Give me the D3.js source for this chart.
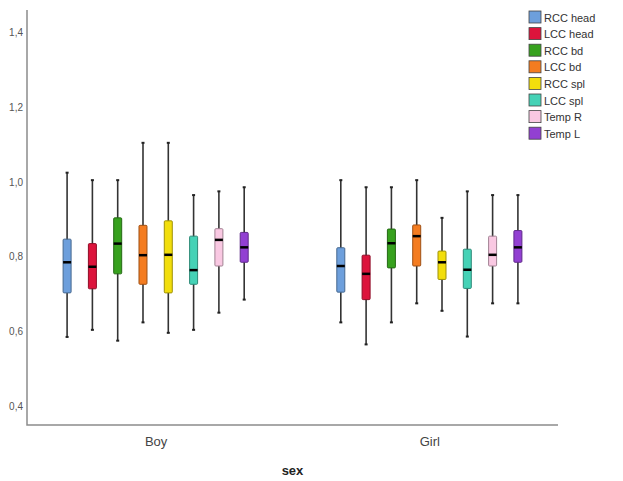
<!DOCTYPE html>
<html>
<head>
<meta charset="utf-8">
<script src="https://cdn.jsdelivr.net/npm/d3@7"></script>
<style>
  body { margin: 0; background: #fff; }
  text { font-family: "Liberation Sans", Arial, sans-serif; }
</style>
</head>
<body>
<div id="chart"></div>
<script>
// groups on the x axis and the eight measured sites
const groups = ["Boy", "Girl"];
const series = ["RCC head", "LCC head", "RCC bd", "LCC bd", "RCC spl", "LCC spl", "Temp R", "Temp L"];
const colors = ["#6d9fdc", "#dc143c", "#37a11e", "#f47c20", "#f2de0c", "#45d2b6", "#f9c8e2", "#9240d2"];

// [low whisker, Q1, median, Q3, high whisker] per series
const boyStats = [
  [0.585, 0.703, 0.785, 0.847, 1.025],
  [0.604, 0.714, 0.773, 0.835, 1.005],
  [0.575, 0.754, 0.835, 0.904, 1.005],
  [0.624, 0.726, 0.804, 0.884, 1.105],
  [0.596, 0.703, 0.805, 0.896, 1.105],
  [0.604, 0.726, 0.764, 0.855, 0.965],
  [0.650, 0.775, 0.845, 0.875, 0.975],
  [0.685, 0.785, 0.825, 0.865, 0.986]
];
const girlStats = [
  [0.624, 0.705, 0.775, 0.824, 1.005],
  [0.565, 0.685, 0.754, 0.804, 0.986],
  [0.624, 0.770, 0.836, 0.874, 0.986],
  [0.675, 0.775, 0.855, 0.885, 1.005],
  [0.655, 0.739, 0.785, 0.815, 0.904],
  [0.586, 0.715, 0.765, 0.820, 0.975],
  [0.675, 0.775, 0.805, 0.855, 0.965],
  [0.675, 0.785, 0.825, 0.870, 0.965]
];
const yTicks = [0.4, 0.6, 0.8, 1.0, 1.2, 1.4];

const W = 623, H = 481;
const plotLeft = 27, plotRight = 558, plotBottom = 425, plotTop = 10;

const svg = d3.select("#chart").append("svg")
  .attr("width", W).attr("height", H);

const x = d3.scalePoint().domain(groups).range([plotLeft, plotRight]).padding(0.47);
const inner = d3.scalePoint().domain(series).range([-101.2, 101.2]).padding(0.5);
const y = d3.scaleLinear().domain([0.4, 1.4]).range([406, 32.7]);
const boxW = 8;

// axes
const fmt = d => d3.format(".1f")(d).replace(".", ",");
const yAxis = svg.append("g")
  .attr("transform", `translate(${plotLeft},0)`)
  .call(d3.axisLeft(y).tickValues(yTicks).tickSize(0).tickPadding(4).tickFormat(fmt));
yAxis.select(".domain").remove();
yAxis.selectAll("text").attr("font-size", 10).attr("fill", "#555")
  .style("font-family", "Arial, 'Liberation Sans', sans-serif");

const xAxis = svg.append("g")
  .attr("transform", `translate(0,${plotBottom})`)
  .call(d3.axisBottom(x).tickSize(0).tickPadding(12));
xAxis.select(".domain").remove();
xAxis.selectAll("text").attr("font-size", 13).attr("fill", "#444");

svg.append("path")
  .attr("d", `M${plotLeft},${plotTop}V${plotBottom}H${plotRight}`)
  .attr("fill", "none").attr("stroke", "#8c8c8c").attr("stroke-width", 1.5);

svg.append("text")
  .attr("x", (plotLeft + plotRight) / 2).attr("y", 475)
  .attr("text-anchor", "middle")
  .attr("font-size", 13).attr("font-weight", "bold").attr("fill", "#222")
  .text("sex");

// boxes
const rows = [];
groups.forEach((g, gi) => {
  const stats = gi === 0 ? boyStats : girlStats;
  series.forEach((s, si) => {
    const [lo, q1, med, q3, hi] = stats[si];
    rows.push({ g, s, si, lo, q1, med, q3, hi });
  });
});

const box = svg.append("g").selectAll("g")
  .data(rows).enter().append("g")
  .attr("transform", d => `translate(${x(d.g) + inner(d.s)},0)`);

box.append("line")
  .attr("y1", d => y(d.hi)).attr("y2", d => y(d.lo))
  .attr("stroke", "#333").attr("stroke-width", 1.6);

box.append("rect")
  .attr("x", -1.5).attr("width", 3)
  .attr("y", d => y(d.hi) - 1).attr("height", 2).attr("fill", "#222");
box.append("rect")
  .attr("x", -1.5).attr("width", 3)
  .attr("y", d => y(d.lo) - 1).attr("height", 2).attr("fill", "#222");

box.append("rect")
  .attr("x", -boxW / 2).attr("width", boxW)
  .attr("y", d => y(d.q3)).attr("height", d => y(d.q1) - y(d.q3))
  .attr("rx", 1)
  .attr("fill", d => colors[d.si])
  .attr("stroke", d => d3.color(colors[d.si]).darker(1.2))
  .attr("stroke-width", 1);

box.append("line")
  .attr("x1", -boxW / 2).attr("x2", boxW / 2)
  .attr("y1", d => y(d.med)).attr("y2", d => y(d.med))
  .attr("stroke", "#000").attr("stroke-width", 2.5);

// legend
const legend = svg.append("g").attr("transform", "translate(529,11)");
const item = legend.selectAll("g").data(series).enter().append("g")
  .attr("transform", (d, i) => `translate(0,${i * 16.6})`);
item.append("rect")
  .attr("width", 12).attr("height", 12)
  .attr("fill", (d, i) => colors[i])
  .attr("stroke", "#444").attr("stroke-width", 0.8);
item.append("text")
  .attr("x", 15).attr("y", 10.5)
  .attr("font-size", 11).attr("fill", "#333")
  .text(d => d);
</script>
</body>
</html>
